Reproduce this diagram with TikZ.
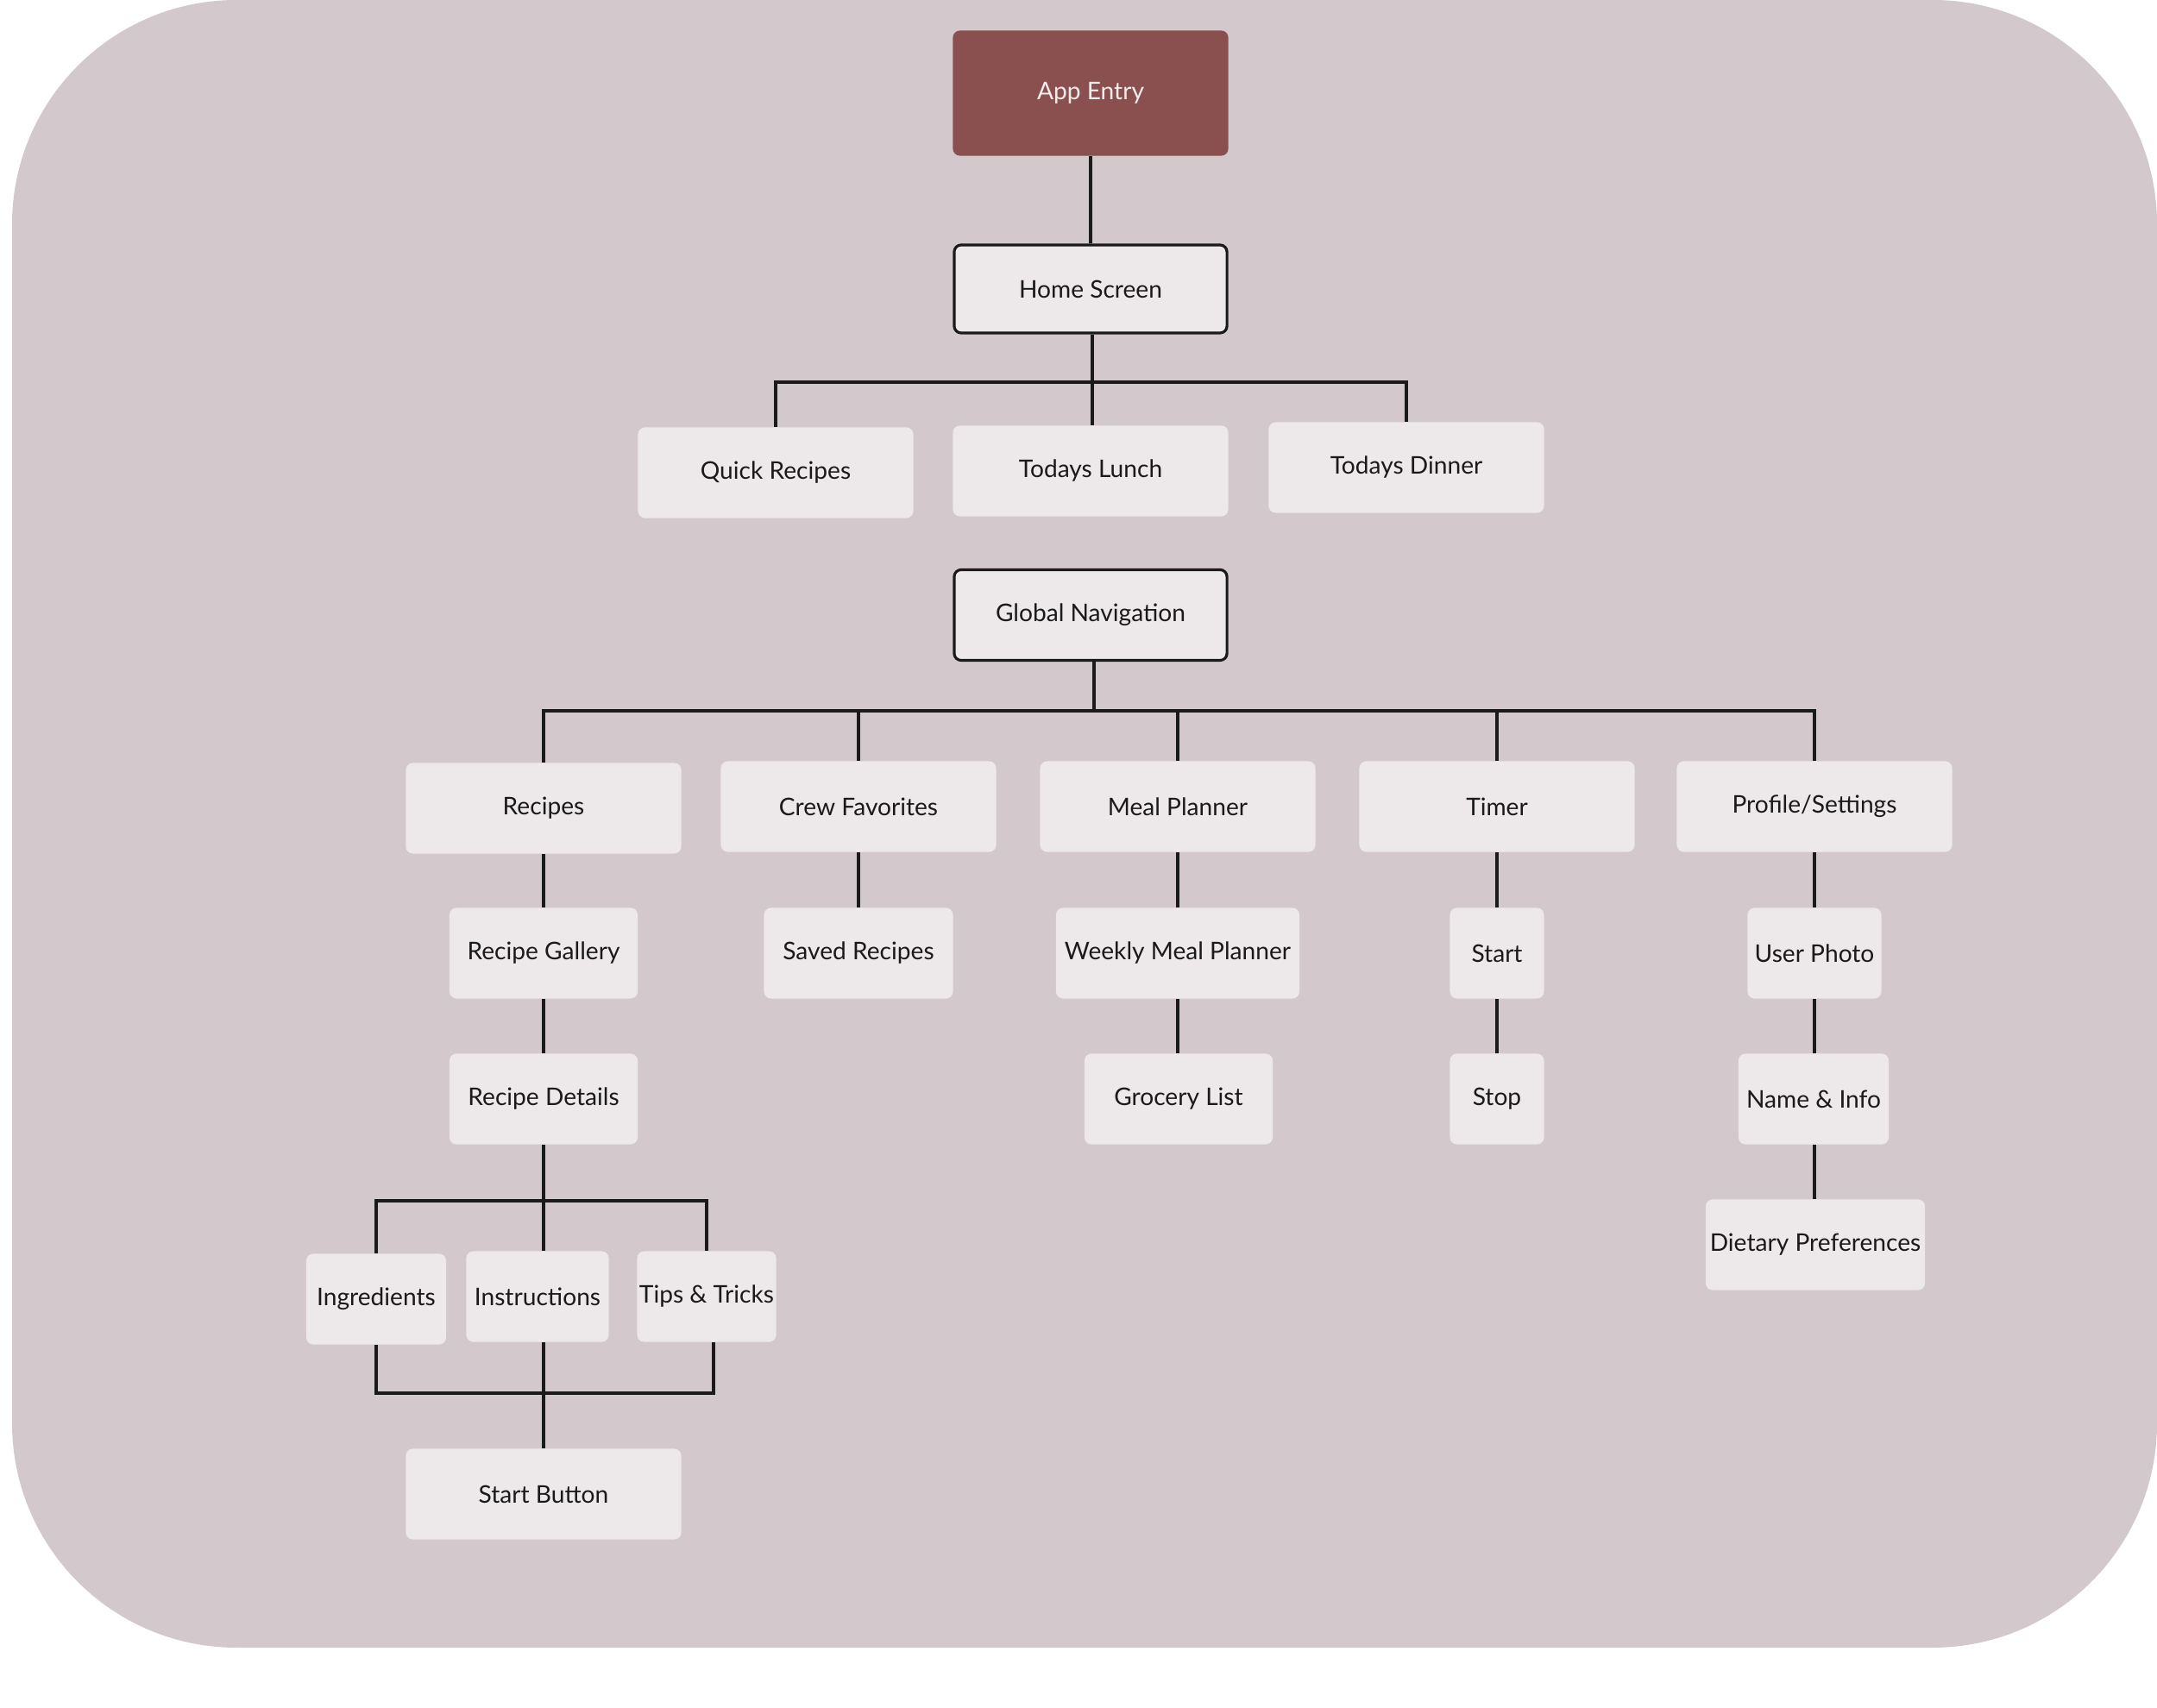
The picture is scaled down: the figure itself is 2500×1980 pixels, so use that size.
\documentclass[tikz,border=0pt]{standalone}
\usepackage{fontspec}
\setmainfont{Lato}
\definecolor{bg}{HTML}{D3C9CD}
\definecolor{nodefill}{HTML}{EDE8EA}
\definecolor{entry}{HTML}{8A5050}
\definecolor{entrytext}{HTML}{F3ECEC}
\definecolor{ink}{HTML}{1A1A1A}
\begin{document}
\begin{tikzpicture}[x=0.01cm,y=-0.01cm,
 box/.style={fill=nodefill, rounded corners=2.3pt, text=ink, font=\fontsize{8}{10}\selectfont, inner sep=0pt, minimum height=1.05cm},
 navbox/.style={box, draw=ink, line width=0.9pt},
 entrybox/.style={box, fill=entry, text=entrytext},
 bus/.style={draw=ink, line width=1.25pt},
 link/.style={draw=ink, line width=1pt}]
\useasboundingbox (0,0) rectangle (2500,1980);
\fill[bg, rounded corners=2.6cm] (14,0) rectangle (2500,1910);

\node[entrybox, minimum width=3.19cm, minimum height=1.45cm] (entry) at (1264,108) {App Entry};
\node[navbox, minimum width=3.16cm, minimum height=1.02cm] (home) at (1264,335) {Home Screen};
\node[box, minimum width=3.19cm] (quick) at (899,548) {Quick Recipes};
\node[box, minimum width=3.19cm] (lunch) at (1264,546) {Todays Lunch};
\node[box, minimum width=3.19cm] (dinner) at (1630,542) {Todays Dinner};
\node[navbox, minimum width=3.16cm] (global) at (1264,713) {Global Navigation};

\node[box, minimum width=3.19cm] (recipes) at (630,937) {Recipes};
\node[box, minimum width=3.19cm] (crew) at (995,935) {Crew Favorites};
\node[box, minimum width=3.19cm] (meal) at (1365,935) {Meal Planner};
\node[box, minimum width=3.19cm] (timer) at (1735,935) {Timer};
\node[box, minimum width=3.19cm] (profile) at (2103,935) {Profile/Settings};

\node[box, minimum width=2.18cm] (gallery) at (630,1105) {Recipe Gallery};
\node[box, minimum width=2.19cm] (saved) at (995,1105) {Saved Recipes};
\node[box, minimum width=2.82cm] (weekly) at (1365,1105) {Weekly Meal Planner};
\node[box, minimum width=1.09cm] (tstart) at (1735,1105) {Start};
\node[box, minimum width=1.55cm] (photo) at (2103,1105) {User Photo};

\node[box, minimum width=2.18cm] (details) at (630,1274) {Recipe Details};
\node[box, minimum width=2.18cm] (grocery) at (1366,1274) {Grocery List};
\node[box, minimum width=1.09cm] (tstop) at (1735,1274) {Stop};
\node[box, minimum width=1.74cm] (nameinfo) at (2102,1274) {Name \& Info};
\node[box, minimum width=2.54cm] (dietary) at (2104,1443) {Dietary Preferences};

\node[box, minimum width=1.62cm] (ingr) at (436,1506) {Ingredients};
\node[box, minimum width=1.65cm] (instr) at (623,1503) {Instructions};
\node[box, minimum width=1.61cm] (tips) at (819,1503) {Tips \& Tricks};
\node[box, minimum width=3.19cm] (startbtn) at (630,1732) {Start Button};

% connectors
\draw[bus] (entry.south) -- (home.north);
\coordinate (hbus) at (1266,443);
\draw[bus] (hbus |- home.south) -- (hbus);
\draw[bus] (quick.north) -- (quick.north |- hbus) -- (dinner.north |- hbus) -- (dinner.north);
\draw[bus] (hbus) -- (hbus |- lunch.north);

\coordinate (gbus) at (1268,824);
\draw[bus] (global.south -| gbus) -- (gbus);
\draw[bus] (recipes.north) -- (recipes.north |- gbus) -- (profile.north |- gbus) -- (profile.north);
\foreach \n in {crew,meal,timer} \draw[bus] (\n.north) -- (\n.north |- gbus);

\draw[link] (recipes.south) -- (recipes.south |- gallery.north);
\draw[link] (gallery.south) -- (gallery.south |- details.north);
\draw[link] (crew.south) -- (crew.south |- saved.north);
\draw[link] (meal.south) -- (meal.south |- weekly.north);
\draw[link] (weekly.south) -- (weekly.south |- grocery.north);
\draw[link] (timer.south) -- (timer.south |- tstart.north);
\draw[link] (tstart.south) -- (tstart.south |- tstop.north);
\draw[link] (profile.south) -- (profile.south |- photo.north);
\draw[link] (photo.south) -- (photo.south |- nameinfo.north);
\draw[link] (nameinfo.south -| photo.south) -- (photo.south |- dietary.north);

\coordinate (dbus) at (630,1392);
\draw[link] (details.south) -- (dbus);
\draw[link] (ingr.north) -- (ingr.north |- dbus) -- (tips.north |- dbus) -- (tips.north);
\draw[link] (dbus) -- (dbus |- instr.north);
\coordinate (sbus) at (630,1615);
\draw[link] (ingr.south) -- (ingr.south |- sbus) -- ([xshift=0.08cm]tips.south |- sbus) -- ([xshift=0.08cm]tips.south);
\draw[link] (sbus |- instr.south) -- (startbtn.north);
\end{tikzpicture}
\end{document}
